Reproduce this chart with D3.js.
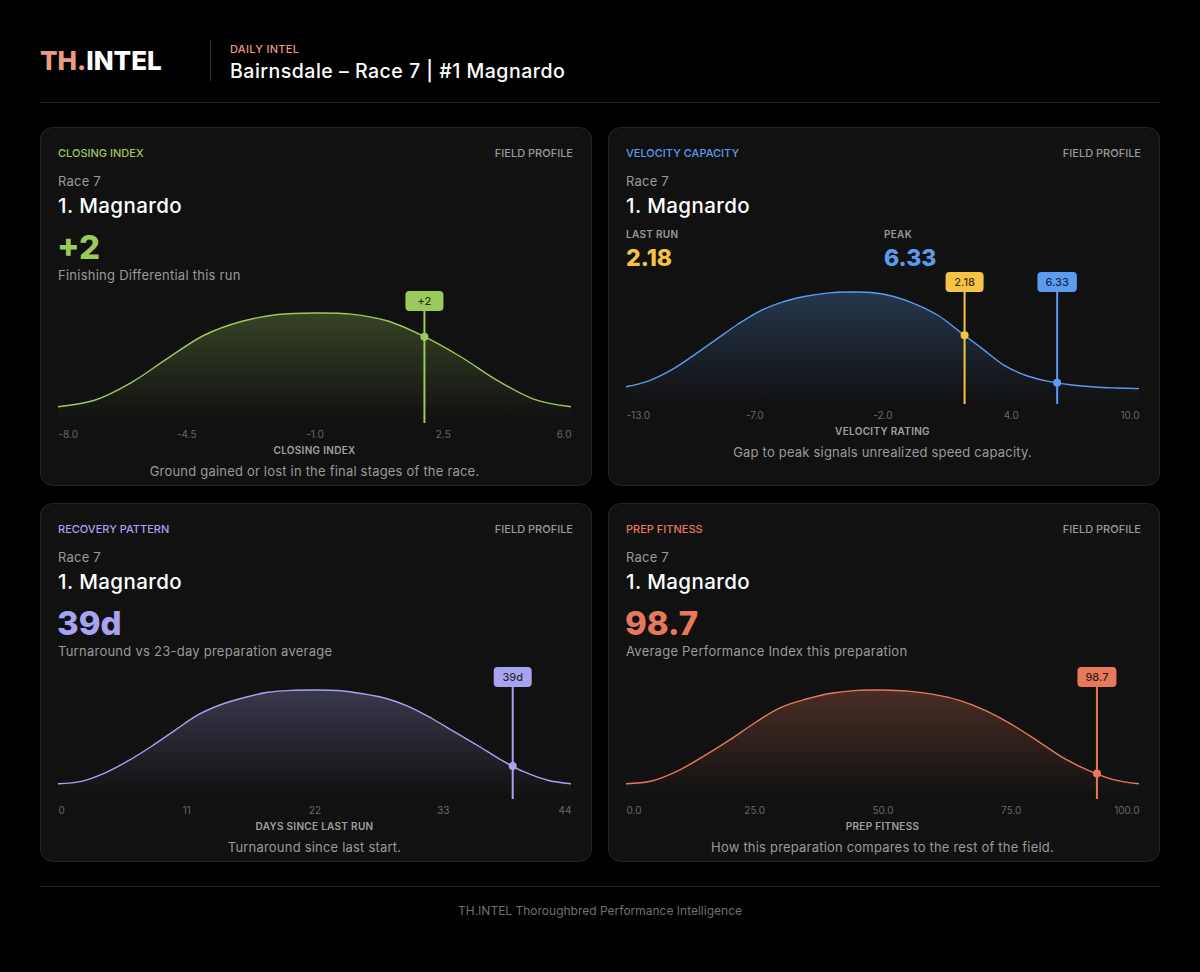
<!DOCTYPE html>
<html>
<head>
<meta charset="utf-8">
<script src="https://cdn.jsdelivr.net/npm/d3@7"></script>
<style>
    body { margin: 0; background: #000; }
    svg text { font-family: Inter, "Open Sans", sans-serif; }
</style>
</head>
<body>
<svg id="chart"></svg>
<script>
// Field profile data (relative density, peak = 1)

const closingX = [-8, -7, -6, -5, -4, -3, -2, -1, 0, 1, 2, 3, 4, 5, 6];
const closingDensity = [0.148, 0.207, 0.368, 0.59, 0.80, 0.923, 0.986, 1.0, 0.99, 0.927, 0.785, 0.60, 0.385, 0.215, 0.148];
const closingTicks = ['-8.0', '-4.5', '-1.0', '2.5', '6.0'];
const closingMarker = 2;

const velocityX = [-13, -12, -11, -10, -9, -8, -7, -6, -5, -4, -3, -2, -1, 0, 1, 2, 3, 4, 5, 6, 7, 8, 9, 10];
const velocityDensity = [0.154, 0.205, 0.30, 0.43, 0.57, 0.71, 0.83, 0.91, 0.96, 0.99, 1.0, 0.995, 0.96, 0.89, 0.79, 0.64, 0.49, 0.34, 0.25, 0.20, 0.17, 0.152, 0.143, 0.137];
const velocityTicks = ['-13.0', '-7.0', '-2.0', '4.0', '10.0'];
const velocityLastRun = 2.18;
const velocityPeak = 6.33;

const recoveryX = [0, 2, 4, 6, 8, 10, 12, 14, 16, 18, 20, 22, 24, 26, 28, 30, 32, 34, 36, 38, 40, 42, 44];
const recoveryDensity = [0.14, 0.162, 0.238, 0.349, 0.482, 0.628, 0.771, 0.867, 0.931, 0.979, 0.997, 1.0, 0.995, 0.968, 0.927, 0.853, 0.743, 0.615, 0.491, 0.358, 0.248, 0.172, 0.14];
const recoveryTicks = ['0', '11', '22', '33', '44'];
const recoveryMarker = 39;

const prepX = [0, 5, 10, 15, 20, 25, 30, 35, 40, 45, 50, 55, 60, 65, 70, 75, 80, 85, 90, 95, 100];
const prepDensity = [0.14, 0.165, 0.256, 0.389, 0.535, 0.695, 0.837, 0.915, 0.97, 0.997, 1.0, 0.99, 0.96, 0.905, 0.814, 0.69, 0.54, 0.384, 0.265, 0.178, 0.14];
const prepTicks = ['0.0', '25.0', '50.0', '75.0', '100.0'];
const prepMarkerPos = 91.8;
const prepMarkerLabel = '98.7';

const W = 1200, H = 972;
const CARD_W = 552, CARD_H = 359;
const GREY = '#9a9a9a';

const cards = [
    {
        x: 40, y: 127, title: 'CLOSING INDEX', color: '#9bc95c',
        big: '+2', sub: 'Finishing Differential this run',
        xs: closingX, ys: closingDensity, ticks: closingTicks,
        axisTitle: 'CLOSING INDEX', caption: 'Ground gained or lost in the final stages of the race.',
        markers: [{ value: closingMarker, label: '+2', color: '#9bc95c' }],
        bottom: 296, plotH: 110
    },
    {
        x: 608, y: 127, title: 'VELOCITY CAPACITY', color: '#5b9cf0',
        stats: [
            { label: 'LAST RUN', value: '2.18', color: '#f6c445', dx: 18 },
            { label: 'PEAK', value: '6.33', color: '#5b9cf0', dx: 276 }
        ],
        xs: velocityX, ys: velocityDensity, ticks: velocityTicks,
        axisTitle: 'VELOCITY RATING', caption: 'Gap to peak signals unrealized speed capacity.',
        markers: [
            { value: velocityLastRun, label: '2.18', color: '#f6c445' },
            { value: velocityPeak, label: '6.33', color: '#5b9cf0' }
        ],
        bottom: 277, plotH: 112
    },
    {
        x: 40, y: 503, title: 'RECOVERY PATTERN', color: '#a8a3f0',
        big: '39d', sub: 'Turnaround vs 23-day preparation average',
        xs: recoveryX, ys: recoveryDensity, ticks: recoveryTicks,
        axisTitle: 'DAYS SINCE LAST RUN', caption: 'Turnaround since last start.',
        markers: [{ value: recoveryMarker, label: '39d', color: '#a8a3f0' }],
        bottom: 296, plotH: 109
    },
    {
        x: 608, y: 503, title: 'PREP FITNESS', color: '#e6795c',
        big: '98.7', sub: 'Average Performance Index this preparation',
        xs: prepX, ys: prepDensity, ticks: prepTicks,
        axisTitle: 'PREP FITNESS', caption: 'How this preparation compares to the rest of the field.',
        markers: [{ value: prepMarkerPos, label: prepMarkerLabel, color: '#e6795c' }],
        bottom: 296, plotH: 109
    }
];

const svg = d3.select('#chart')
    .attr('width', W)
    .attr('height', H)
    .style('background', '#000');

const defs = svg.append('defs');

// Header
const brand = svg.append('text')
    .attr('x', 40).attr('y', 70)
    .attr('font-size', 26).attr('font-weight', 800);
brand.append('tspan').attr('fill', '#ec9b82').text('TH.');
brand.append('tspan').attr('fill', '#fff').text('INTEL');

svg.append('line')
    .attr('x1', 210.5).attr('x2', 210.5).attr('y1', 40).attr('y2', 81)
    .attr('stroke', '#333');

svg.append('text')
    .attr('x', 230).attr('y', 53)
    .attr('font-size', 11).attr('font-weight', 500)
    .attr('letter-spacing', 0.3)
    .attr('fill', '#ec9b82')
    .text('DAILY INTEL');

svg.append('text')
    .attr('x', 230).attr('y', 78)
    .attr('font-size', 19.5).attr('font-weight', 500)
    .attr('letter-spacing', 0.5)
    .attr('fill', '#fff')
    .text('Bairnsdale – Race 7 | #1 Magnardo');

svg.append('line')
    .attr('x1', 40).attr('x2', 1160).attr('y1', 102.5).attr('y2', 102.5)
    .attr('stroke', '#262626');

// Cards
cards.forEach((c, ci) => {
    const g = svg.append('g').attr('transform', `translate(${c.x},${c.y})`);

    g.append('rect')
        .attr('x', 0.5).attr('y', 0.5)
        .attr('width', CARD_W - 1).attr('height', CARD_H - 1)
        .attr('rx', 12)
        .attr('fill', '#111')
        .attr('stroke', '#252525');

    g.append('text')
        .attr('x', 18).attr('y', 30)
        .attr('font-size', 11).attr('font-weight', 500)
        .attr('fill', c.color)
        .text(c.title);

    g.append('text')
        .attr('x', 533).attr('y', 30)
        .attr('text-anchor', 'end')
        .attr('font-size', 11).attr('font-weight', 500)
        .attr('fill', GREY)
        .text('FIELD PROFILE');

    g.append('text')
        .attr('x', 18).attr('y', 59)
        .attr('font-size', 13)
        .attr('letter-spacing', 0.2)
        .attr('fill', GREY)
        .text('Race 7');

    g.append('text')
        .attr('x', 18).attr('y', 86)
        .attr('font-size', 20.5).attr('font-weight', 500)
        .attr('letter-spacing', 0.4)
        .attr('fill', '#fff')
        .text('1. Magnardo');

    if (c.big) {
        g.append('text')
            .attr('x', 17).attr('y', 132)
            .attr('font-size', 33).attr('font-weight', 800)
            .attr('fill', c.color)
            .text(c.big);

        g.append('text')
            .attr('x', 18).attr('y', 152.5)
            .attr('font-size', 13)
            .attr('letter-spacing', 0.25)
            .attr('fill', GREY)
            .text(c.sub);
    }

    (c.stats || []).forEach(s => {
        g.append('text')
            .attr('x', s.dx).attr('y', 111)
            .attr('font-size', 10).attr('font-weight', 600)
            .attr('letter-spacing', 0.3)
            .attr('fill', GREY)
            .text(s.label);
        g.append('text')
            .attr('x', s.dx).attr('y', 139)
            .attr('font-size', 23).attr('font-weight', 800)
            .attr('fill', s.color)
            .text(s.value);
    });

    // Distribution chart
    const x = d3.scaleLinear()
        .domain([c.xs[0], c.xs[c.xs.length - 1]])
        .range([18, 531]);
    const y = d3.scaleLinear()
        .domain([0, 1])
        .range([c.bottom, c.bottom - c.plotH]);

    const pts = c.xs.map((v, i) => [v, c.ys[i]]);
    const curve = d3.curveCatmullRom.alpha(0.5);

    const grad = defs.append('linearGradient')
        .attr('id', `fill-${ci}`)
        .attr('x1', 0).attr('x2', 0).attr('y1', 0).attr('y2', 1);
    grad.append('stop').attr('offset', '0%').attr('stop-color', c.color).attr('stop-opacity', 0.27);
    grad.append('stop').attr('offset', '100%').attr('stop-color', c.color).attr('stop-opacity', 0);

    g.append('path')
        .datum(pts)
        .attr('fill', `url(#fill-${ci})`)
        .attr('d', d3.area()
            .x(d => x(d[0]))
            .y0(c.bottom - 2)
            .y1(d => y(d[1]))
            .curve(curve));

    g.append('path')
        .datum(pts)
        .attr('fill', 'none')
        .attr('stroke', c.color)
        .attr('stroke-width', 1.4)
        .attr('d', d3.line()
            .x(d => x(d[0]))
            .y(d => y(d[1]))
            .curve(curve));

    // Axis with evenly spaced ticks
    const lo = x.domain()[0], hi = x.domain()[1];
    const tv = d3.range(5).map(i => lo + (hi - lo) * i / 4);
    const axisG = g.append('g')
        .attr('transform', `translate(0,${c.bottom + 8})`)
        .call(d3.axisBottom(x).tickValues(tv).tickFormat((d, i) => c.ticks[i]).tickSize(0).tickPadding(0));
    axisG.select('.domain').remove();
    axisG.selectAll('text')
        .attr('fill', '#686868')
        .attr('font-size', 10)
        .attr('text-anchor', (d, i) => i === 0 ? 'start' : i === 4 ? 'end' : 'middle');

    g.append('text')
        .attr('x', 274.5).attr('y', c.bottom + 31)
        .attr('text-anchor', 'middle')
        .attr('font-size', 10).attr('font-weight', 600)
        .attr('letter-spacing', 0.3)
        .attr('fill', '#a0a0a0')
        .text(c.axisTitle);

    g.append('text')
        .attr('x', 274.5).attr('y', c.bottom + 53)
        .attr('text-anchor', 'middle')
        .attr('font-size', 13)
        .attr('letter-spacing', 0.2)
        .attr('fill', GREY)
        .text(c.caption);

    // Markers
    const boxTop = c.bottom - 132;
    c.markers.forEach(m => {
        const mx = x(m.value);
        const j = Math.min(d3.bisectRight(c.xs, m.value), c.xs.length - 1);
        const t = (m.value - c.xs[j - 1]) / (c.xs[j] - c.xs[j - 1]);
        const dens = c.ys[j - 1] + t * (c.ys[j] - c.ys[j - 1]);

        g.append('line')
            .attr('x1', mx).attr('x2', mx)
            .attr('y1', boxTop + 20).attr('y2', c.bottom)
            .attr('stroke', m.color)
            .attr('stroke-width', 2);

        g.append('circle')
            .attr('cx', mx).attr('cy', y(dens))
            .attr('r', 4)
            .attr('fill', m.color);

        const lbl = g.append('g');
        const rect = lbl.append('rect')
            .attr('y', boxTop).attr('height', 20)
            .attr('rx', 4)
            .attr('fill', m.color);
        const txt = lbl.append('text')
            .attr('x', mx).attr('y', boxTop + 14)
            .attr('text-anchor', 'middle')
            .attr('font-size', 11).attr('font-weight', 500)
            .attr('fill', '#000').attr('fill-opacity', 0.78)
            .text(m.label);
        const bw = Math.max(38, txt.node().getComputedTextLength() + 16);
        rect.attr('x', mx - bw / 2).attr('width', bw);
    });
});

// Footer
svg.append('line')
    .attr('x1', 40).attr('x2', 1160).attr('y1', 886.5).attr('y2', 886.5)
    .attr('stroke', '#262626');

svg.append('text')
    .attr('x', 600).attr('y', 915)
    .attr('text-anchor', 'middle')
    .attr('font-size', 12)
    .attr('fill', '#707070')
    .text('TH.INTEL Thoroughbred Performance Intelligence');
</script>
</body>
</html>
